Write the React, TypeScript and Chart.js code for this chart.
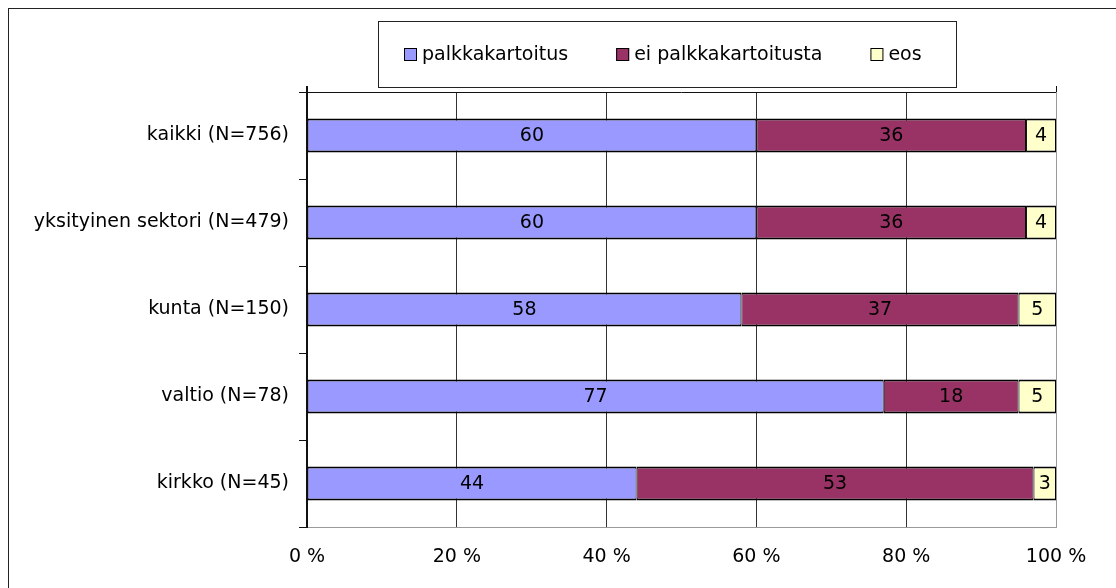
import React, { useEffect, useRef } from 'react';
import { Chart, registerables } from 'chart.js';

Chart.register(...registerables);

const CATEGORIES = ['kaikki (N=756)', 'yksityinen sektori (N=479)', 'kunta (N=150)', 'valtio (N=78)', 'kirkko (N=45)'];
const SERIES_NAMES = ['palkkakartoitus', 'ei palkkakartoitusta', 'eos'];
const PALKKAKARTOITUS = [60, 60, 58, 77, 44];
const EI_PALKKAKARTOITUSTA = [36, 36, 37, 18, 53];
const EOS = [4, 4, 5, 5, 3];
const X_TICKS = [0, 20, 40, 60, 80, 100];
const COLORS = ['#9999FF', '#993366', '#FFFFCC'];

const FONT_FAMILY = '"DejaVu Sans", sans-serif';
const FONT_SIZE = 19;

const valueLabels = {
  id: 'valueLabels',
  afterDatasetsDraw(chart: any) {
    const ctx = chart.ctx;
    ctx.save();
    ctx.font = `${FONT_SIZE}px ${FONT_FAMILY}`;
    ctx.fillStyle = '#000';
    ctx.textAlign = 'center';
    ctx.textBaseline = 'middle';
    chart.data.datasets.forEach((ds: any, i: number) => {
      const meta = chart.getDatasetMeta(i);
      meta.data.forEach((el: any, j: number) => {
        const p = el.getProps(['x', 'y', 'base'], true);
        ctx.fillText(String(ds.data[j]), (p.x + p.base) / 2, p.y + 1);
      });
    });
    ctx.restore();
  },
};

const frameAndLegend = {
  id: 'frameAndLegend',
  afterDraw(chart: any) {
    const ctx = chart.ctx;
    const a = chart.chartArea;
    ctx.save();
    // top frame line of plot area and small extensions
    ctx.strokeStyle = '#111';
    ctx.lineWidth = 1;
    ctx.beginPath();
    ctx.moveTo(a.left, Math.round(a.top) + 0.5);
    ctx.lineTo(a.right, Math.round(a.top) + 0.5);
    ctx.moveTo(Math.round(a.right) + 0.5, a.top - 6);
    ctx.lineTo(Math.round(a.right) + 0.5, a.top);
    ctx.stroke();
    ctx.lineWidth = 2;
    ctx.beginPath();
    ctx.moveTo(a.left, a.top - 6);
    ctx.lineTo(a.left, a.top);
    ctx.stroke();

    // legend
    const left = 369.5, top = 12.5, w = 578, h = 66;
    ctx.lineWidth = 1;
    ctx.strokeStyle = '#222';
    ctx.strokeRect(left, top, w, h);
    ctx.font = `${FONT_SIZE}px ${FONT_FAMILY}`;
    const sq = 13, gapText = 5, gapItem = 48;
    const widths = SERIES_NAMES.map((n) => ctx.measureText(n).width);
    let x = Math.round(left + 25);
    const cy = top + h / 2;
    ctx.textAlign = 'left';
    ctx.textBaseline = 'middle';
    SERIES_NAMES.forEach((name, i) => {
      const sy = Math.round(cy - sq / 2);
      ctx.fillStyle = COLORS[i];
      ctx.fillRect(x, sy, sq, sq);
      ctx.strokeStyle = '#000';
      ctx.strokeRect(x + 0.5, sy + 0.5, sq - 1, sq - 1);
      ctx.fillStyle = '#000';
      ctx.fillText(name, x + sq + gapText, cy + 1);
      x += sq + gapText + widths[i] + gapItem;
    });
    ctx.restore();
  },
};

export default function App() {
  const canvasRef = useRef<HTMLCanvasElement | null>(null);

  useEffect(() => {
    if (!canvasRef.current) return;
    const seriesData = [PALKKAKARTOITUS, EI_PALKKAKARTOITUSTA, EOS];
    const chart = new Chart(canvasRef.current, {
      type: 'bar',
      data: {
        labels: CATEGORIES,
        datasets: SERIES_NAMES.map((name, i) => ({
          label: name,
          data: seriesData[i],
          backgroundColor: COLORS[i],
          borderColor: '#000',
          borderWidth: { top: 2, bottom: 2, left: 1, right: 1 },
          borderSkipped: false,
          barPercentage: 1,
          categoryPercentage: 0.39,
        })),
      },
      options: {
        indexAxis: 'y',
        animation: false,
        responsive: false,
        devicePixelRatio: 1,
        events: [],
        layout: { padding: { top: 83, right: 60, left: 0, bottom: 0 } },
        plugins: {
          legend: { display: false },
          tooltip: { enabled: false },
        },
        scales: {
          x: {
            type: 'linear',
            stacked: true,
            min: 0,
            max: 100,
            afterBuildTicks: (s: any) => {
              s.ticks = X_TICKS.map((v) => ({ value: v }));
            },
            afterFit: (s: any) => {
              s.height = 61;
              s.paddingLeft = 0;
              s.paddingRight = 0;
            },
            ticks: {
              padding: 19,
              color: '#000',
              font: { family: FONT_FAMILY, size: FONT_SIZE },
              callback: (v: any) => `${v} %`,
            },
            grid: {
              drawTicks: false,
              lineWidth: 1,
              color: (c: any) => {
                const v = c.tick ? c.tick.value : null;
                if (v === 0) return 'rgba(0,0,0,0)';
                if (v === 100) return '#999';
                return '#333';
              },
            },
            border: { display: true, color: '#999', width: 1 },
          },
          y: {
            type: 'category',
            stacked: true,
            afterFit: (s: any) => {
              s.width = 298;
              s.paddingTop = 0;
              s.paddingBottom = 0;
            },
            ticks: {
              padding: 10,
              color: '#000',
              font: { family: FONT_FAMILY, size: FONT_SIZE },
            },
            grid: {
              offset: true,
              drawOnChartArea: false,
              drawTicks: true,
              tickLength: 8,
              tickWidth: 1,
              tickColor: '#111',
              color: '#111',
            },
            border: { display: true, color: '#111', width: 2 },
          },
        },
      },
      plugins: [valueLabels, frameAndLegend],
    } as any);
    return () => chart.destroy();
  }, []);

  return (
    <div
      style={{
        position: 'absolute',
        left: 8,
        top: 8,
        width: 1108,
        height: 580,
        boxSizing: 'border-box',
        borderTop: '1px solid #222',
        borderLeft: '1px solid #222',
        background: '#fff',
      }}
    >
      <canvas ref={canvasRef} width={1107} height={579} style={{ display: 'block' }} />
    </div>
  );
}
